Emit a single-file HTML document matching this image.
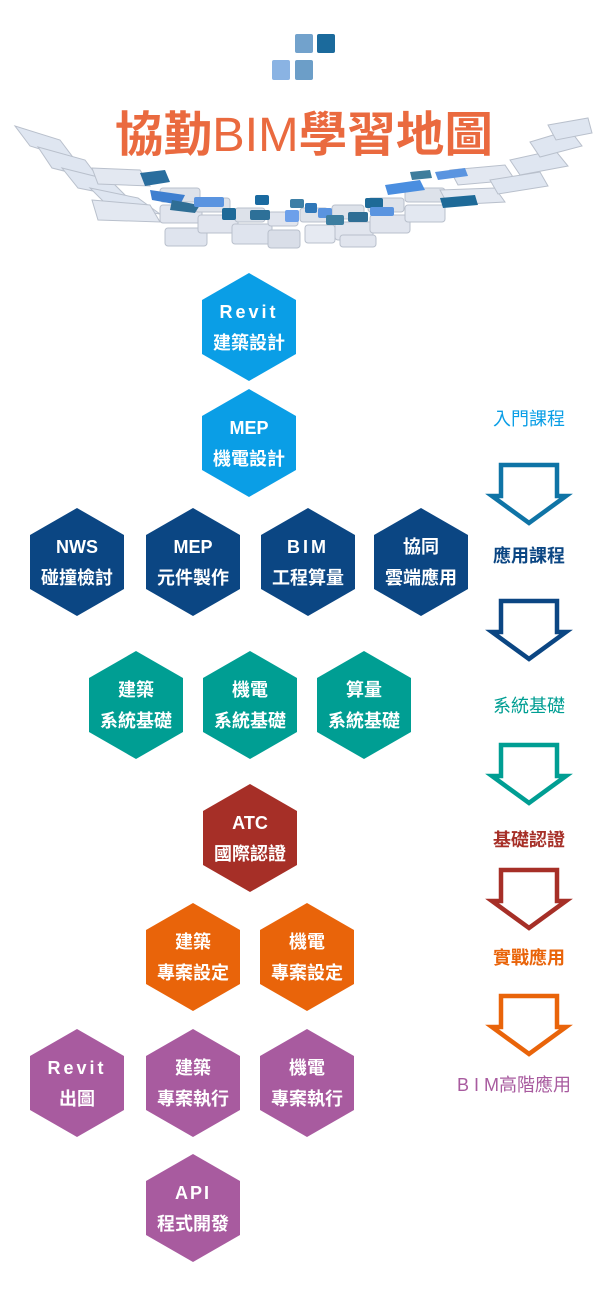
<!DOCTYPE html>
<html><head><meta charset="utf-8"><style>
html,body{margin:0;padding:0;background:#fff;}
svg{display:block;}
text{font-family:"Liberation Sans","Noto Sans CJK TC",sans-serif;}
.h{fill:#fff;font-size:18px;font-weight:bold;text-anchor:middle;}
.l{font-size:18px;text-anchor:middle;}
</style></head><body>
<svg width="600" height="1303" viewBox="0 0 600 1303" xmlns="http://www.w3.org/2000/svg">
<defs>
<polygon id="hx" points="0,-54 47,-27 47,27 0,54 -47,27 -47,-27"/>
</defs>
<!-- logo -->
<rect x="295" y="34" width="18" height="19" rx="2" fill="#72a2cc"/>
<rect x="317" y="34" width="18" height="19" rx="2" fill="#1b6a9c"/>
<rect x="272" y="60" width="18" height="20" rx="2" fill="#8ab3e3"/>
<rect x="295" y="60" width="18" height="20" rx="2" fill="#6c9ec8"/>
<!-- tile arc -->
<g stroke="#b9c0cc" stroke-width="1">
<polygon points="15,126 60,140 75,160 30,146" fill="#dfe6f1"/>
<polygon points="38,147 85,160 100,180 52,168" fill="#dfe6f1"/>
<polygon points="62,168 110,180 128,198 78,188" fill="#dfe6f1"/>
<polygon points="90,188 138,198 160,214 108,206" fill="#dfe6f1"/>
<polygon points="92,200 150,205 160,222 98,220" fill="#e3e8f1"/>
<polygon points="92,168 140,170 150,186 98,184" fill="#e3e8f1"/>
<rect x="160" y="205" width="42" height="18" rx="3" fill="#e1e5ee"/>
<rect x="165" y="228" width="42" height="18" rx="3" fill="#dfe4ee"/>
<rect x="198" y="215" width="40" height="18" rx="3" fill="#e1e5ee"/>
<rect x="232" y="224" width="40" height="20" rx="3" fill="#dfe4ee"/>
<rect x="268" y="230" width="32" height="18" rx="3" fill="#d9dee8"/>
<rect x="305" y="225" width="30" height="18" rx="3" fill="#e6eaf2"/>
<rect x="335" y="222" width="38" height="18" rx="3" fill="#e1e5ee"/>
<rect x="370" y="215" width="40" height="18" rx="3" fill="#e1e5ee"/>
<rect x="405" y="205" width="40" height="17" rx="3" fill="#e3e8f1"/>
<rect x="340" y="235" width="36" height="12" rx="3" fill="#e1e5ee"/>
<rect x="160" y="188" width="40" height="14" rx="3" fill="#dde2ea"/>
<rect x="195" y="198" width="35" height="14" rx="3" fill="#dde2ea"/>
<rect x="235" y="208" width="30" height="14" rx="3" fill="#dde2ea"/>
<rect x="268" y="212" width="30" height="14" rx="3" fill="#e1e5ee"/>
<rect x="300" y="208" width="28" height="14" rx="3" fill="#dde2ea"/>
<rect x="332" y="205" width="32" height="14" rx="3" fill="#dde2ea"/>
<rect x="368" y="198" width="36" height="14" rx="3" fill="#dde2ea"/>
<rect x="405" y="188" width="40" height="14" rx="3" fill="#dde2ea"/>
<polygon points="440,190 495,188 505,202 448,205" fill="#e3e8f1"/>
<polygon points="450,170 505,165 515,180 458,185" fill="#e3e8f1"/>
<polygon points="490,180 540,172 548,186 498,194" fill="#dfe6f1"/>
<polygon points="510,160 555,150 568,166 520,175" fill="#dfe6f1"/>
<polygon points="530,142 570,130 582,146 540,157" fill="#dfe6f1"/>
<polygon points="548,125 588,118 592,133 556,140" fill="#dfe6f1"/>
</g>
<g>
<polygon points="140,173 165,170 170,182 145,186" fill="#2a6e9e"/>
<polygon points="150,190 185,195 180,205 152,200" fill="#3e7fd0"/>
<polygon points="172,200 200,205 195,213 170,210" fill="#2f6e95"/>
<rect x="194" y="197" width="30" height="10" rx="2" fill="#5a94e0"/>
<rect x="222" y="208" width="14" height="12" rx="2" fill="#1e6a98"/>
<rect x="250" y="210" width="20" height="10" rx="2" fill="#2d7098"/>
<rect x="255" y="195" width="14" height="10" rx="2" fill="#1a6aa0"/>
<rect x="285" y="210" width="14" height="12" rx="2" fill="#6da0ea"/>
<rect x="290" y="199" width="14" height="9" rx="2" fill="#3d7fa6"/>
<rect x="305" y="203" width="12" height="10" rx="2" fill="#2f77b8"/>
<rect x="318" y="208" width="14" height="10" rx="2" fill="#5a94e0"/>
<rect x="326" y="215" width="18" height="10" rx="2" fill="#3d7ea0"/>
<rect x="348" y="212" width="20" height="10" rx="2" fill="#2f6e95"/>
<rect x="365" y="198" width="18" height="10" rx="2" fill="#1e6a98"/>
<rect x="370" y="207" width="24" height="9" rx="2" fill="#5a94e0"/>
<polygon points="385,185 420,180 425,190 388,195" fill="#4a8ee0"/>
<polygon points="410,172 430,170 432,178 412,180" fill="#3e7d9c"/>
<polygon points="435,172 465,168 468,176 438,180" fill="#5a94e0"/>
<polygon points="440,198 475,195 478,205 443,208" fill="#1e6a98"/>
</g>
<text x="304" y="151" font-size="48" font-weight="bold" fill="#ea6a3f" text-anchor="middle" textLength="378" lengthAdjust="spacingAndGlyphs">協勤<tspan font-weight="normal">BIM</tspan>學習地圖</text>

<!-- hexagons -->
<g fill="#0a9ee6">
<use href="#hx" x="249" y="327"/><use href="#hx" x="249" y="443"/>
</g>
<g fill="#0b4683">
<use href="#hx" x="77" y="562"/><use href="#hx" x="193" y="562"/><use href="#hx" x="308" y="562"/><use href="#hx" x="421" y="562"/>
</g>
<g fill="#009e93">
<use href="#hx" x="136" y="705"/><use href="#hx" x="250" y="705"/><use href="#hx" x="364" y="705"/>
</g>
<use href="#hx" x="250" y="838" fill="#a62f27"/>
<g fill="#e9640a">
<use href="#hx" x="193" y="957"/><use href="#hx" x="307" y="957"/>
</g>
<g fill="#a85b9f">
<use href="#hx" x="77" y="1083"/><use href="#hx" x="193" y="1083"/><use href="#hx" x="307" y="1083"/><use href="#hx" x="193" y="1208"/>
</g>

<g class="h">
<text x="249" y="318" style="letter-spacing:3px">Revit</text><text x="249" y="349">建築設計</text>
<text x="249" y="434">MEP</text><text x="249" y="465">機電設計</text>
<text x="77" y="553">NWS</text><text x="77" y="584">碰撞檢討</text>
<text x="193" y="553">MEP</text><text x="193" y="584">元件製作</text>
<text x="308" y="553" style="letter-spacing:3px">BIM</text><text x="308" y="584">工程算量</text>
<text x="421" y="553">協同</text><text x="421" y="584">雲端應用</text>
<text x="136" y="696">建築</text><text x="136" y="727">系統基礎</text>
<text x="250" y="696">機電</text><text x="250" y="727">系統基礎</text>
<text x="364" y="696">算量</text><text x="364" y="727">系統基礎</text>
<text x="250" y="829">ATC</text><text x="250" y="860">國際認證</text>
<text x="193" y="948">建築</text><text x="193" y="979">專案設定</text>
<text x="307" y="948">機電</text><text x="307" y="979">專案設定</text>
<text x="77" y="1074" style="letter-spacing:3px">Revit</text><text x="77" y="1105">出圖</text>
<text x="193" y="1074">建築</text><text x="193" y="1105">專案執行</text>
<text x="307" y="1074">機電</text><text x="307" y="1105">專案執行</text>
<text x="193" y="1199" style="letter-spacing:2px">API</text><text x="193" y="1230">程式開發</text>
</g>

<!-- right labels -->
<g class="l">
<text x="529" y="425" fill="#0a9ee6">入門課程</text>
<text x="529" y="562" fill="#0b4683" font-weight="bold">應用課程</text>
<text x="529" y="712" fill="#009e93">系統基礎</text>
<text x="529" y="846" fill="#a62f27" font-weight="bold">基礎認證</text>
<text x="529" y="964" fill="#e9640a" font-weight="bold">實戰應用</text>
<text x="514" y="1091" fill="#a85b9f">B I M高階應用</text>
</g>

<!-- arrows -->
<g fill="none" stroke-width="4.5" stroke-linejoin="miter">
<polygon points="501,465 557,465 557,496 566,496 529,523 492,496 501,496" stroke="#0f74a6"/>
<polygon points="501,601 557,601 557,632 566,632 529,659 492,632 501,632" stroke="#0b4683"/>
<polygon points="501,745 557,745 557,776 566,776 529,803 492,776 501,776" stroke="#009e93"/>
<polygon points="501,870 557,870 557,901 566,901 529,928 492,901 501,901" stroke="#a62f27"/>
<polygon points="501,996 557,996 557,1027 566,1027 529,1054 492,1027 501,1027" stroke="#e9640a"/>
</g>
</svg>
</body></html>
